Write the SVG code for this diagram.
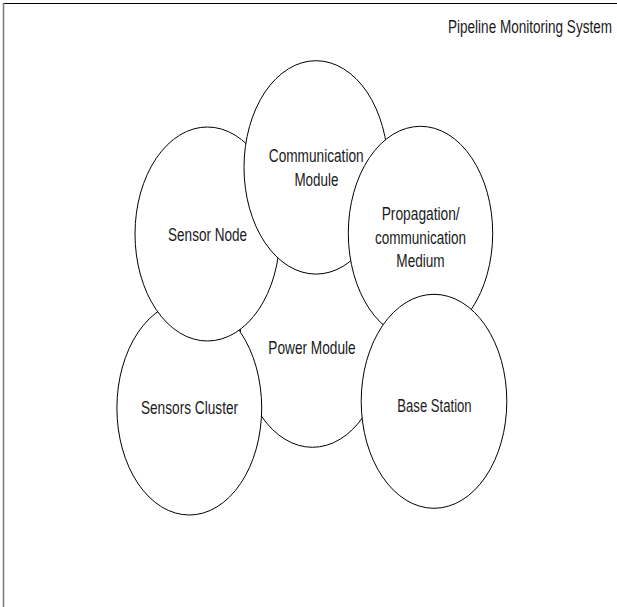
<svg xmlns="http://www.w3.org/2000/svg" width="617" height="607" viewBox="0 0 617 607">
<style>
.n ellipse{fill:#fff;stroke:#000;stroke-width:1}
text{font-family:"Liberation Sans",Arial,sans-serif;font-size:17.5px;fill:#1a1a1a;text-anchor:middle}
</style>
<rect width="617" height="607" fill="#fff"/>
<g id="frame">
<line x1="3.5" y1="3.5" x2="617" y2="3.5" stroke="#000" stroke-width="1.2"/>
<line x1="3.5" y1="3" x2="3.5" y2="607" stroke="#777" stroke-width="1.5"/>
</g>
<text id="title" x="612" y="33.3" style="text-anchor:end" textLength="164" lengthAdjust="spacingAndGlyphs">Pipeline Monitoring System</text>
<g id="connectors"></g>
<g id="power-module" class="n">
<ellipse cx="312.5" cy="340.3" rx="72.4" ry="107"/>
<text x="312" y="353.5" textLength="87.4" lengthAdjust="spacingAndGlyphs">Power Module</text>
</g>
<g id="sensors-cluster" class="n">
<ellipse cx="189.3" cy="408" rx="72.4" ry="107"/>
<text x="189.5" y="413.8" textLength="97.2" lengthAdjust="spacingAndGlyphs">Sensors Cluster</text>
</g>
<g id="sensor-node" class="n">
<ellipse cx="207.4" cy="234" rx="72.4" ry="107"/>
<text x="207.6" y="241" textLength="79.1" lengthAdjust="spacingAndGlyphs">Sensor Node</text>
</g>
<g id="communication-module" class="n">
<ellipse cx="316" cy="167.4" rx="72" ry="106.7"/>
<text x="316.2" y="162" textLength="94.8" lengthAdjust="spacingAndGlyphs">Communication</text>
<text x="316.4" y="185.5" textLength="44" lengthAdjust="spacingAndGlyphs">Module</text>
</g>
<g id="propagation-medium" class="n">
<ellipse cx="420.5" cy="233.3" rx="72.2" ry="107"/>
<text x="420.7" y="220" textLength="78" lengthAdjust="spacingAndGlyphs">Propagation/</text>
<text x="420.5" y="243.5" textLength="91" lengthAdjust="spacingAndGlyphs">communication</text>
<text x="420.5" y="267" textLength="48.4" lengthAdjust="spacingAndGlyphs">Medium</text>
</g>
<g id="base-station" class="n">
<ellipse cx="434" cy="401.3" rx="72.8" ry="107"/>
<text x="434.5" y="411.5" textLength="74.3" lengthAdjust="spacingAndGlyphs">Base Station</text>
</g>
</svg>
